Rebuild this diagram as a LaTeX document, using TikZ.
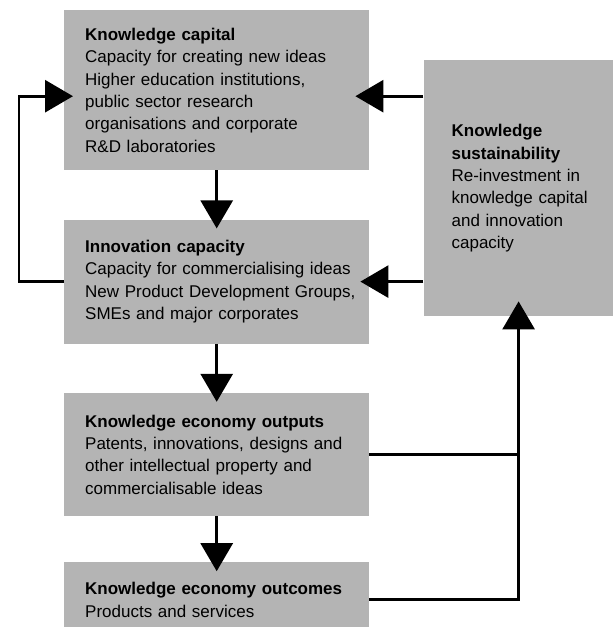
\documentclass[tikz,border=0pt]{standalone}
\usepackage{fontspec}
\setmainfont{Liberation Sans}
\usepackage{xcolor}
\usetikzlibrary{positioning, arrows.meta}
\definecolor{boxgray}{RGB}{180,180,180}
\tikzstyle{block} = [rectangle, fill=boxgray, text width=263pt, inner xsep=21pt, inner ysep=0pt, align=left, font=\fontsize{17}{22.3}\selectfont]
\tikzstyle{sideblock} = [block, text width=134pt, inner xsep=28pt]
\tikzstyle{line} = [line width=2.9pt]
\tikzstyle{arrow} = [line, -{Triangle[length=28pt,width=32pt]}, shorten >=-9pt]

\begin{document}
\begin{tikzpicture}[x=1pt, y=-1pt, node distance=49pt]
    \clip (0,0) rectangle (613,627);

    \node (capital) [block, minimum height=160pt, anchor=north west] at (64,10) {\textbf{Knowledge capital}\\Capacity for creating new ideas\\Higher education institutions,\\public sector research\\organisations and corporate\\R\&D laboratories};
    \node (innovation) [block, minimum height=124pt, below=of capital] {\textbf{Innovation capacity}\\\mbox{Capacity for commercialising ideas}\\\mbox{New Product Development Groups,}\\SMEs and major corporates};
    \node (outputs) [block, minimum height=123pt, below=of innovation] {\textbf{Knowledge economy outputs}\\Patents, innovations, designs and\\other intellectual property and\\commercialisable ideas};
    \node (outcomes) [block, minimum height=75pt, below=46pt of outputs] {\textbf{Knowledge economy outcomes}\\Products and services};
    \node (sustain) [sideblock, minimum height=256pt, below right=50pt and 54pt of capital.north east] {\textbf{Knowledge}\\\textbf{sustainability}\\Re-investment in\\\mbox{knowledge capital}\\and innovation\\capacity};

    % arrows into the knowledge capital box sit a little below its centre
    \coordinate (kleft) at ([yshift=-6pt]capital.west);
    \coordinate (kright) at ([yshift=-6pt]capital.east);

    \draw [arrow] (capital) -- (innovation);
    \draw [arrow] (innovation) -- (outputs);
    \draw [arrow] (outputs) -- (outcomes);
    \draw [arrow] (innovation.west) -- ++(-45,0) |- (kleft);
    \draw [arrow, shorten >=-14pt] (sustain.west |- kright) -- (kright);
    \draw [arrow] (sustain.west |- innovation.east) -- (innovation.east);
    \draw [line] (outputs.east) -- (outputs.east -| sustain.south);
    \draw [arrow, shorten >=-15pt] (outcomes.east) -| (sustain.south);
\end{tikzpicture}
\end{document}
